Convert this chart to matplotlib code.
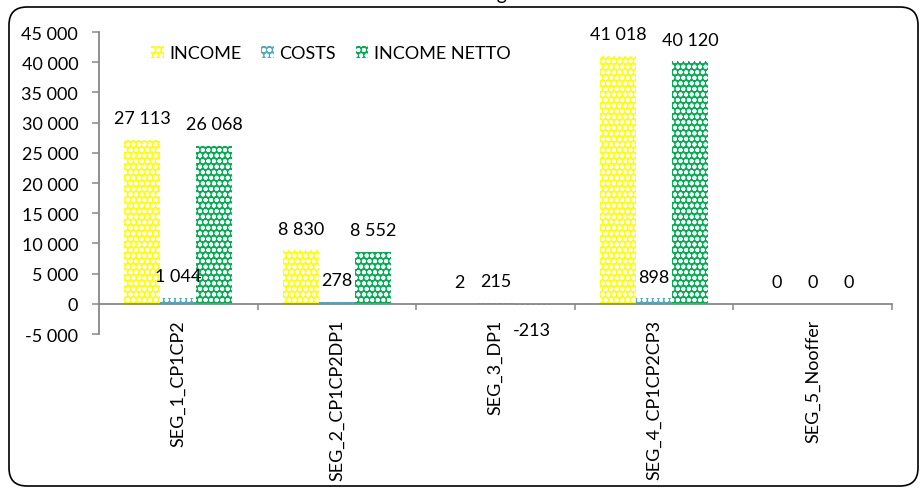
import matplotlib
matplotlib.use("Agg")
import matplotlib.pyplot as plt
from matplotlib.patches import FancyBboxPatch
import numpy as np

# Données par segment
segments = ["SEG_1_CP1CP2", "SEG_2_CP1CP2DP1", "SEG_3_DP1",
            "SEG_4_CP1CP2CP3", "SEG_5_Nooffer"]
income = [27113, 8830, 2, 41018, 0]
costs = [1044, 278, 215, 898, 0]
income_netto = [26068, 8552, -213, 40120, 0]

series = [("INCOME", income, "#FFFF00"),
          ("COSTS", costs, "#4BACC6"),
          ("INCOME NETTO", income_netto, "#00B050")]

plt.rcParams['font.family'] = ['Lato', 'DejaVu Sans']
plt.rcParams['hatch.linewidth'] = 1.3

fig = plt.figure(figsize=(9.22, 4.89), dpi=100)
ax = fig.add_axes([0.1074, 0.3149, 0.8601, 0.6176])

# axe horizontal placé sur le zéro (à faire avant de régler les ticks)
for s in ["top", "right"]:
    ax.spines[s].set_visible(False)
ax.spines["bottom"].set_position(("data", 0))
for s in ["left", "bottom"]:
    ax.spines[s].set_color("#878787")
    ax.spines[s].set_linewidth(1.3)

x = np.arange(len(segments))
w = 0.227


def fmt(v):
    return "{:,}".format(v).replace(",", " ")


for i, (nom, vals, col) in enumerate(series):
    pos = x + (i - 1) * w
    ax.bar(pos, vals, w, color=col, edgecolor="white", linewidth=0,
           hatch="ooo", label=nom)
    for p, v in zip(pos, vals):
        if v < 0:
            ax.annotate(fmt(v), (p, v), xytext=(0, -12), textcoords="offset points",
                        ha="center", va="top", fontsize=13)
        else:
            ax.annotate(fmt(v), (p, v), xytext=(0, 10), textcoords="offset points",
                        ha="center", va="bottom", fontsize=13)

# Axes
ax.set_xlim(-0.5, len(segments) - 0.5)
ax.set_ylim(-5000, 45000)
ax.set_yticks(np.arange(-5000, 45001, 5000))
ax.set_yticklabels([fmt(v) for v in range(-5000, 45001, 5000)], fontsize=13)
ax.tick_params(axis="y", direction="out", length=5, width=1.1, color="#878787", pad=10)

ax.set_xticks(x)
ax.set_xticklabels(segments, rotation=90, fontsize=13)
ax.set_xticks(np.arange(0.5, len(segments), 1.0), minor=True)
ax.tick_params(axis="x", which="major", length=0, pad=11)
ax.tick_params(axis="x", which="minor", direction="out", length=4, width=1.1, color="#878787")

ax.legend(loc="upper left", bbox_to_anchor=(0.045, 1.01), ncol=3, frameon=False,
          fontsize=13, handlelength=0.7, handleheight=0.7, handletextpad=0.3,
          columnspacing=1.1)

# Titre (coupé en haut)
fig.text(0.505, 1.0, "Income for segment", ha="center", va="baseline", fontsize=14)

# Cadre arrondi du graphique
cadre = FancyBboxPatch((9, 2), 909, 479, boxstyle="round,pad=0,rounding_size=18",
                       transform=None, facecolor="none", edgecolor="black", linewidth=1.2)
fig.add_artist(cadre)

fig.savefig("out.png", dpi=100)
